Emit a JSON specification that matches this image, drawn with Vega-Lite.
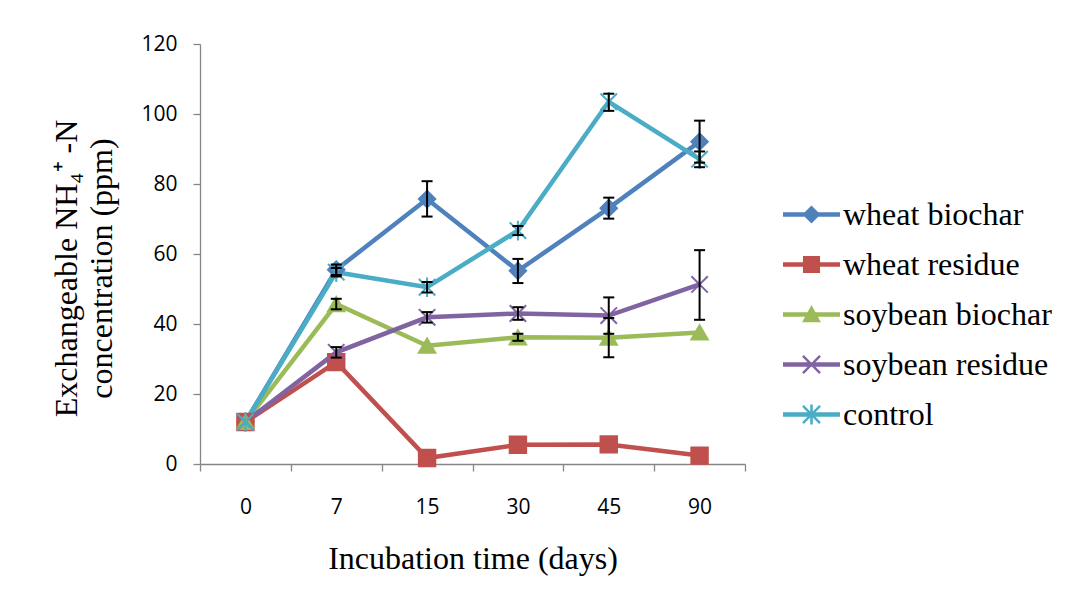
{
  "$schema": "https://vega.github.io/schema/vega-lite/v6.json",
  "width": 545,
  "height": 420,
  "autosize": {"type": "none"},
  "padding": {"left": 200, "top": 44, "right": 322, "bottom": 140},
  "background": "white",
  "config": {
    "view": {"stroke": null},
    "font": "Liberation Serif",
    "legend": {
      "orient": "none", "legendX": 583, "legendY": 142, "title": null, "padding": 0,
      "symbolSize": 3249, "symbolStrokeWidth": 0, "symbolOpacity": 1,
      "labelFont": "Times New Roman", "labelFontSize": 32, "labelColor": "#000000",
      "labelOffset": 3, "rowPadding": 5, "labelLimit": 400
    }
  },
  "data": {"values": [
    {"series": "wheat biochar", "day": "0", "value": 12, "lo": null, "hi": null},
    {"series": "wheat biochar", "day": "7", "value": 55.5, "lo": 54, "hi": 57},
    {"series": "wheat biochar", "day": "15", "value": 75.7, "lo": 70.7, "hi": 80.8},
    {"series": "wheat biochar", "day": "30", "value": 55.2, "lo": 51.7, "hi": 58.6},
    {"series": "wheat biochar", "day": "45", "value": 73.1, "lo": 70.1, "hi": 76.1},
    {"series": "wheat biochar", "day": "90", "value": 92.1, "lo": 86.1, "hi": 98.1},
    {"series": "wheat residue", "day": "0", "value": 12, "lo": null, "hi": null},
    {"series": "wheat residue", "day": "7", "value": 29.1, "lo": null, "hi": null},
    {"series": "wheat residue", "day": "15", "value": 1.7, "lo": null, "hi": null},
    {"series": "wheat residue", "day": "30", "value": 5.5, "lo": null, "hi": null},
    {"series": "wheat residue", "day": "45", "value": 5.6, "lo": null, "hi": null},
    {"series": "wheat residue", "day": "90", "value": 2.4, "lo": null, "hi": null},
    {"series": "soybean biochar", "day": "0", "value": 12, "lo": null, "hi": null},
    {"series": "soybean biochar", "day": "7", "value": 45.7, "lo": 44.2, "hi": 47.2},
    {"series": "soybean biochar", "day": "15", "value": 33.8, "lo": null, "hi": null},
    {"series": "soybean biochar", "day": "30", "value": 36.2, "lo": 35.2, "hi": 37.2},
    {"series": "soybean biochar", "day": "45", "value": 36.1, "lo": 30.5, "hi": 41.7},
    {"series": "soybean biochar", "day": "90", "value": 37.6, "lo": null, "hi": null},
    {"series": "soybean residue", "day": "0", "value": 12, "lo": null, "hi": null},
    {"series": "soybean residue", "day": "7", "value": 31.9, "lo": 30.4, "hi": 33.4},
    {"series": "soybean residue", "day": "15", "value": 41.9, "lo": 40.4, "hi": 43.4},
    {"series": "soybean residue", "day": "30", "value": 43.0, "lo": 41.2, "hi": 44.8},
    {"series": "soybean residue", "day": "45", "value": 42.4, "lo": 37.2, "hi": 47.6},
    {"series": "soybean residue", "day": "90", "value": 51.3, "lo": 41.2, "hi": 61.1},
    {"series": "control", "day": "0", "value": 12, "lo": null, "hi": null},
    {"series": "control", "day": "7", "value": 54.8, "lo": 53.6, "hi": 56.0},
    {"series": "control", "day": "15", "value": 50.5, "lo": 49.0, "hi": 52.0},
    {"series": "control", "day": "30", "value": 66.7, "lo": 65.4, "hi": 68.0},
    {"series": "control", "day": "45", "value": 103.5, "lo": 100.9, "hi": 105.8},
    {"series": "control", "day": "90", "value": 87.1, "lo": 84.8, "hi": 89.3}
  ]},
  "encoding": {
    "x": {
      "field": "day", "type": "ordinal", "sort": ["0", "7", "15", "30", "45", "90"],
      "bandPosition": 0.5,
      "scale": {"type": "band", "paddingInner": 0, "paddingOuter": 0},
      "title": "Incubation time (days)",
      "axis": {
        "tickBand": "extent", "labelAngle": 0, "tickSize": 7, "labelPadding": 25,
        "labelFont": "Open Sans", "labelFontSize": 21, "labelColor": "#000000",
        "domainColor": "#868686", "tickColor": "#868686", "domainWidth": 1.3, "tickWidth": 1.3,
        "titleFont": "Liberation Serif", "titleFontSize": 32, "titleFontWeight": "normal",
        "titleColor": "#000000", "titlePadding": 26
      }
    },
    "y": {
      "field": "value", "type": "quantitative",
      "scale": {"domain": [0, 120], "nice": false},
      "title": ["Exchangeable NH₄⁺ -N", "concentration  (ppm)"],
      "axis": {
        "values": [0, 20, 40, 60, 80, 100, 120], "grid": false, "tickSize": 7, "labelPadding": 16,
        "labelFont": "Open Sans", "labelFontSize": 21, "labelColor": "#000000",
        "domainColor": "#868686", "tickColor": "#868686", "domainWidth": 1.3, "tickWidth": 1.3,
        "titleFont": "Liberation Serif", "titleFontSize": 32, "titleFontWeight": "normal",
        "titleColor": "#000000", "titleLineHeight": 35, "titlePadding": 22, "titleY": 224
      }
    }
  },
  "layer": [
    {
      "mark": {"type": "line", "strokeWidth": 4.5},
      "encoding": {
        "color": {"field": "series", "type": "nominal", "legend": null,
          "scale": {"domain": ["wheat biochar", "wheat residue", "soybean biochar", "soybean residue", "control"],
                    "range": ["#4F81BD", "#C0504D", "#9BBB59", "#8064A2", "#4BACC6"]}},
        "order": {"value": null}
      }
    },
    {
      "mark": {"type": "point", "filled": true, "opacity": 1, "strokeWidth": 2, "size": 270},
      "encoding": {
        "color": {"field": "series", "type": "nominal", "legend": null,
          "scale": {"domain": ["wheat biochar", "wheat residue", "soybean biochar", "soybean residue", "control"],
                    "range": ["#4F81BD", "#C0504D", "#9BBB59", "#8064A2", "#4BACC6"]}},
        "stroke": {"field": "series", "type": "nominal", "legend": null,
          "scale": {"domain": ["wheat biochar", "wheat residue", "soybean biochar", "soybean residue", "control"],
                    "range": ["#4F81BD", "#C0504D", "#9BBB59", "#8064A2", "#4BACC6"]}},
        "shape": {"field": "series", "type": "nominal", "legend": null,
          "scale": {"domain": ["wheat biochar", "wheat residue", "soybean biochar", "soybean residue", "control"],
                    "range": ["diamond", "square", "triangle-up", "M-1,-1L1,1M-1,1L1,-1", "M-1,-1L1,1M-1,1L1,-1M0,-1.2L0,1.2"]}}
      }
    },
    {
      "transform": [{"filter": "isValid(datum.lo)"}],
      "mark": {"type": "rule", "color": "#000000", "strokeWidth": 2},
      "encoding": {
        "y": {"field": "lo", "type": "quantitative", "title": ["Exchangeable NH₄⁺ -N", "concentration  (ppm)"]},
        "y2": {"field": "hi"}
      }
    },
    {
      "transform": [{"filter": "isValid(datum.lo)"}],
      "mark": {"type": "tick", "color": "#000000", "thickness": 2, "size": 11, "opacity": 1},
      "encoding": {
        "y": {"field": "lo", "type": "quantitative", "title": ["Exchangeable NH₄⁺ -N", "concentration  (ppm)"]}
      }
    },
    {
      "transform": [{"filter": "isValid(datum.hi)"}],
      "mark": {"type": "tick", "color": "#000000", "thickness": 2, "size": 11, "opacity": 1},
      "encoding": {
        "y": {"field": "hi", "type": "quantitative", "title": ["Exchangeable NH₄⁺ -N", "concentration  (ppm)"]}
      }
    },
    {
      "transform": [{"filter": "datum.value < -1000"}],
      "mark": {"type": "point", "filled": true, "opacity": 1, "strokeWidth": 0},
      "encoding": {
        "color": {"field": "series", "type": "nominal",
          "scale": {"domain": ["wheat biochar", "wheat residue", "soybean biochar", "soybean residue", "control"],
                    "range": ["#4F81BD", "#C0504D", "#9BBB59", "#8064A2", "#4BACC6"]},
          "legend": {"orient": "none", "legendX": 583, "legendY": 142, "title": null,
                     "labelFont": "Times New Roman", "labelFontSize": 32, "labelColor": "#000000",
                     "symbolSize": 3249, "rowPadding": 5, "labelOffset": 3, "padding": 0}},
        "shape": {"field": "series", "type": "nominal",
          "scale": {"domain": ["wheat biochar", "wheat residue", "soybean biochar", "soybean residue", "control"],
                    "range": [
                      "M-1,-0.079L1,-0.079L1,0.079L-1,0.079Z M-0.316,0L0,-0.316L0.316,0L0,0.316Z",
                      "M-1,-0.079L1,-0.079L1,0.079L-1,0.079Z M-0.3,-0.3L0.3,-0.3L0.3,0.3L-0.3,0.3Z",
                      "M-1,-0.079L1,-0.079L1,0.079L-1,0.079Z M0,-0.33L0.33,0.27L-0.33,0.27Z",
                      "M-1,-0.079L1,-0.079L1,0.079L-1,0.079Z M-0.27,-0.33L0.33,0.27L0.27,0.33L-0.33,-0.27Z M-0.33,0.27L0.27,-0.33L0.33,-0.27L-0.27,0.33Z",
                      "M-1,-0.079L1,-0.079L1,0.079L-1,0.079Z M-0.27,-0.33L0.33,0.27L0.27,0.33L-0.33,-0.27Z M-0.33,0.27L0.27,-0.33L0.33,-0.27L-0.27,0.33Z M-0.045,-0.35L0.045,-0.35L0.045,0.35L-0.045,0.35Z"
                    ]},
          "legend": {"orient": "none", "legendX": 583, "legendY": 142, "title": null,
                     "labelFont": "Times New Roman", "labelFontSize": 32, "labelColor": "#000000",
                     "symbolSize": 3249, "rowPadding": 5, "labelOffset": 3, "padding": 0}}
      }
    }
  ],
  "resolve": {"scale": {"color": "independent", "shape": "independent", "stroke": "independent"}}
}
